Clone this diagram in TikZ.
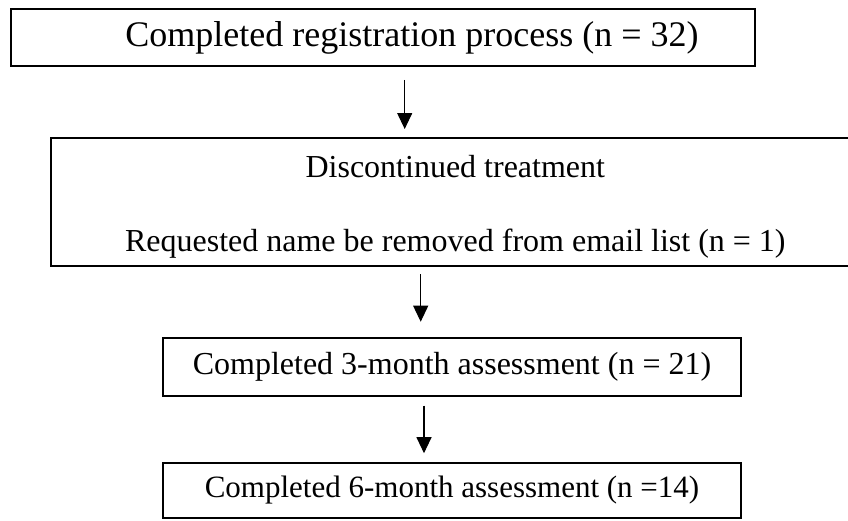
\documentclass[tikz,border=0pt]{standalone}
\usepackage{fontspec}
\setmainfont{Liberation Serif}
\usetikzlibrary{
    arrows.meta,
    calc
}

\tikzset{
  stage/.style={draw, line width=1.8pt, inner sep=0pt},
  flow/.style={-{Triangle[length=16pt,width=15pt]}, line width=1.1pt}
}

\begin{document}
\begin{tikzpicture}[x=1pt, y=-1pt]

% Page frame
\clip (0,0) rectangle (848,520);

% Registration box
\node[stage, minimum width=744pt, minimum height=57pt,
      font=\fontsize{36}{43}\selectfont] (registered) at (383,37.5)
      {\hspace*{58pt}Completed registration process (n = 32)};

% Discontinued box
\node[stage, minimum width=809pt, minimum height=128pt, align=center,
      font=\fontsize{32}{74}\selectfont] (discontinued) at (455.3,201.7)
      {\rule{0pt}{33pt}Discontinued treatment\\Requested name be removed from email list (n = 1)};

% Assessment boxes
\node[stage, minimum width=578pt, minimum height=58pt,
      font=\fontsize{32}{38}\selectfont] (month3) at (452,366.7)
      {Completed 3-month assessment (n = 21)};
\node[stage, minimum width=578pt, minimum height=55pt,
      font=\fontsize{31}{37}\selectfont] (month6) at (452,490.4)
      {Completed 6-month assessment (n =14)};


% Arrows
\coordinate (a1) at (404.7,0);
\coordinate (a2) at (420.7,0);
\coordinate (a3) at (424,0);
\draw[flow, shorten <=13pt, shorten >=7.8pt] (registered.south -| a1) -- (discontinued.north -| a1);
\draw[flow, shorten <=7.4pt, shorten >=15.1pt] (discontinued.south -| a2) -- (month3.north -| a2);
\draw[flow, shorten <=9.1pt, shorten >=8.8pt] (month3.south -| a3) -- (month6.north -| a3);

\end{tikzpicture}
\end{document}
